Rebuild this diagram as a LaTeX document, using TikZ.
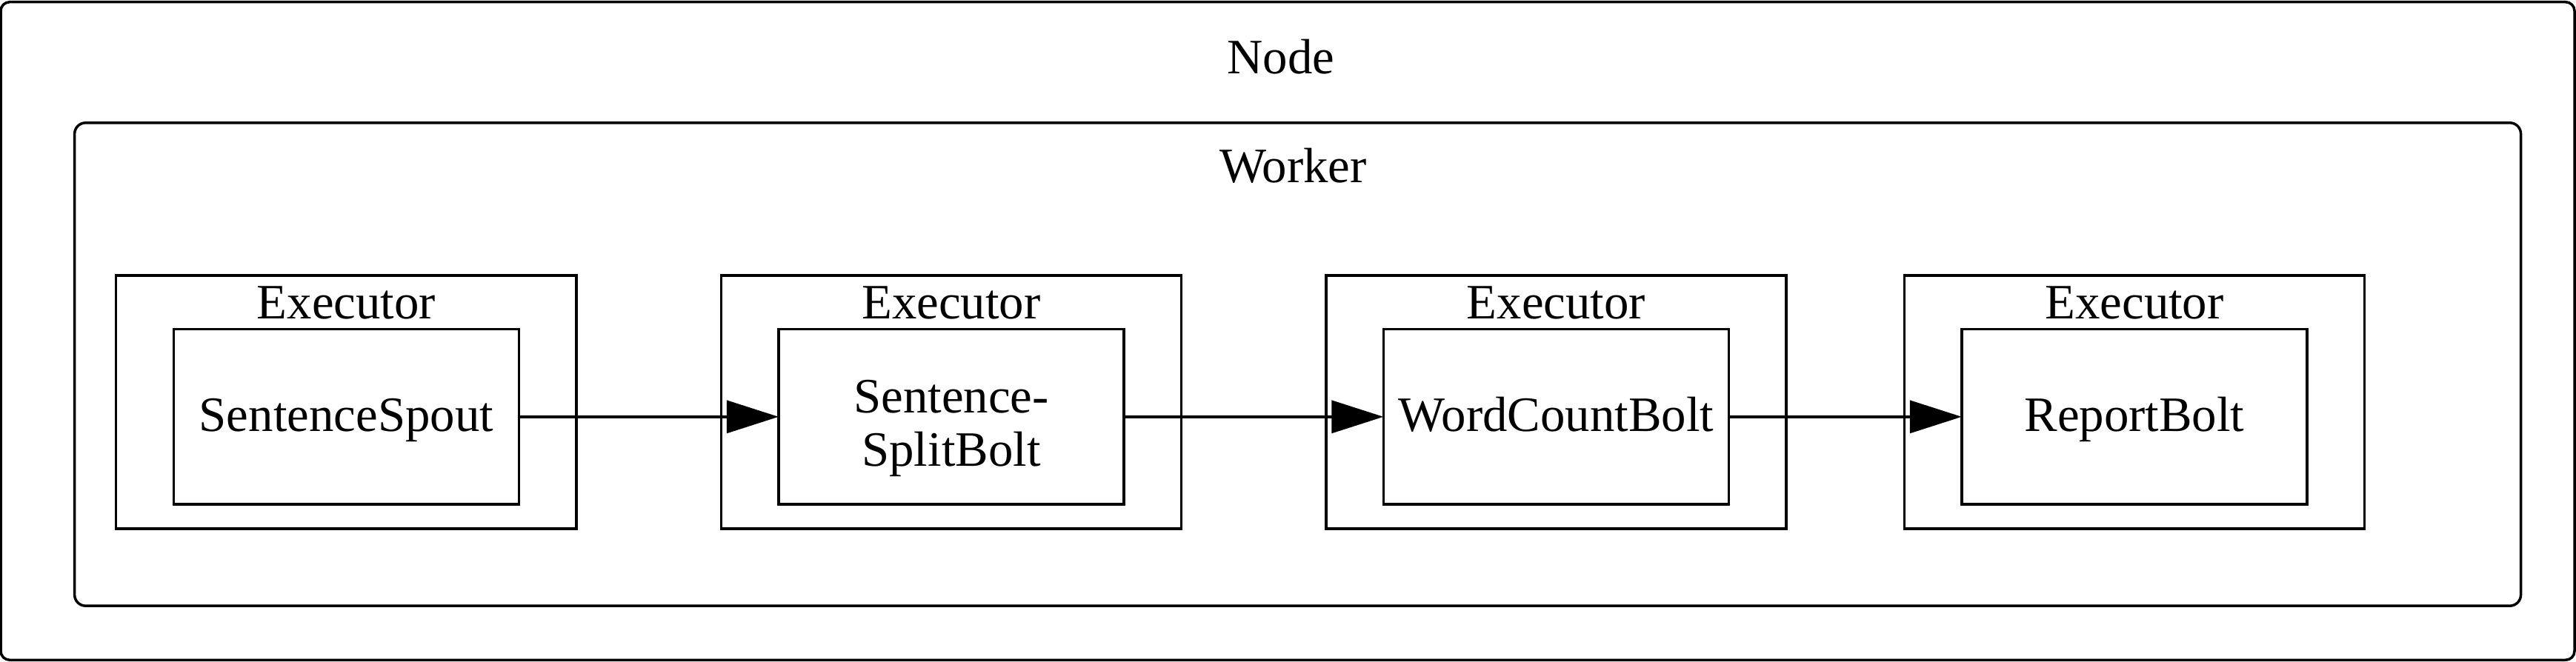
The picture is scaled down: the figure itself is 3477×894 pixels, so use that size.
\documentclass[tikz,border=0pt]{standalone}
\usepackage{fontspec}
\setmainfont{Liberation Serif}
\usetikzlibrary{arrows.meta}
\begin{document}
\begin{tikzpicture}[x=0.01cm,y=-0.01cm,
  frame/.style={draw, line width=1pt, rectangle, inner sep=0pt, outer sep=0pt},
  execbox/.style={frame, minimum width=6.21cm, minimum height=3.42cm},
  taskbox/.style={frame, minimum width=4.66cm, minimum height=2.363cm},
  lbl/.style={inner sep=0pt, outer sep=0pt, font=\fontsize{19pt}{20.3pt}\selectfont, align=center},
  flow/.style={line width=1pt, -{Triangle[length=0.70cm,width=0.44cm]}}]
\useasboundingbox (0,0) rectangle (3477,894);
% outer containers
\node[frame, rounded corners=0.12cm, minimum width=34.72cm, minimum height=8.88cm] (nodebox) at (1738,447) {};
\node[frame, rounded corners=0.15cm, minimum width=33.0cm, minimum height=6.52cm] (workerbox) at (1751.6,492) {};
\node[lbl, anchor=base] (nodelbl) at (1729,99.3) {Node};
\node[lbl, anchor=base] (workerlbl) at (1745.5,246.7) {Worker};
% executors
\node[execbox] (e1) at (467.4,543) {};
\node[execbox] (e2) at (1284,543) {};
\node[execbox] (e3) at (2100.5,543) {};
\node[execbox] (e4) at (2881,543) {};
\node[lbl, anchor=base] (e1l) at (467.4,430) {Executor};
\node[lbl, anchor=base] (e2l) at (1284,430) {Executor};
\node[lbl, anchor=base] (e3l) at (2100.5,430) {Executor};
\node[lbl, anchor=base] (e4l) at (2881,430) {Executor};
% tasks
\node[taskbox] (t1) at (467.4,562.85) {};
\node[taskbox] (t2) at (1284,562.85) {};
\node[taskbox] (t3) at (2100.5,562.85) {};
\node[taskbox] (t4) at (2881,562.85) {};
\node[lbl, anchor=base] (t1l) at (467.4,582.7) {SentenceSpout};
\node[lbl, anchor=base] (t2l) at (1284,629) {Sentence-\\SplitBolt};
\node[lbl, anchor=base] (t3l) at (2100.5,582.7) {WordCountBolt};
\node[lbl, anchor=base] (t4l) at (2881,582.7) {ReportBolt};
% connectors
\draw[flow] (t1.east) -- (t2.west);
\draw[flow] (t2.east) -- (t3.west);
\draw[flow] (t3.east) -- (t4.west);
\end{tikzpicture}
\end{document}
